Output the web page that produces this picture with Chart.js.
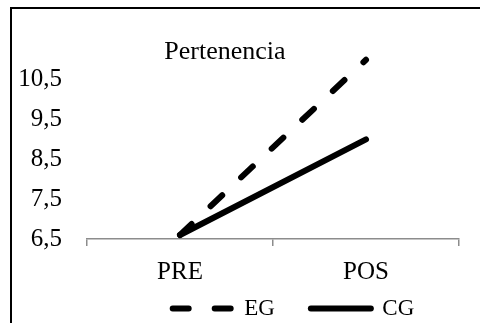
<!DOCTYPE html>
<html>
<head>
<meta charset="utf-8">
<script src="https://cdn.jsdelivr.net/npm/chart.js@4/dist/chart.umd.min.js"></script>
<style>
  html, body { margin: 0; padding: 0; background: #fff; overflow: hidden; }
  #frame {
    position: absolute; left: 10px; top: 7px; width: 600px; height: 500px;
    border-top: 2px solid #000; border-left: 2px solid #000;
  }
  #wrap { position: absolute; left: 0; top: 0; width: 480px; height: 367px; }
</style>
</head>
<body>
<div id="frame"></div>
<div id="wrap"><canvas id="chart"></canvas></div>
<script>
// data
var categories = ['PRE', 'POS'];
var egValues = [6.6, 11.0];
var cgValues = [6.6, 9.0];
var yTickValues = [6.5, 7.5, 8.5, 9.5, 10.5];
var yTickLabels = ['6,5', '7,5', '8,5', '9,5', '10,5'];

var serif = "'Liberation Serif', 'Times New Roman', serif";

// nudges title and legend to where the original sits
var nudge = {
  id: 'nudge',
  afterLayout: function (chart) {
    var t = chart.titleBlock;
    if (t) { t.left -= 14.5; t.right -= 14.5; }
    var l = chart.legend;
    if (l) { l.left += 54; l.right += 54; l.top -= 37; }
  }
};

var canvas = document.getElementById('chart');
var chart = new Chart(canvas, {
  type: 'line',
  data: {
    labels: categories,
    datasets: [{
      label: 'EG',
      data: egValues,
      borderColor: '#000',
      backgroundColor: '#000',
      borderWidth: 6,
      borderDash: [16, 26],
      borderCapStyle: 'round',
      borderJoinStyle: 'round',
      pointRadius: 0,
      clip: false
    }, {
      label: 'CG',
      data: cgValues,
      borderColor: '#000',
      backgroundColor: '#000',
      borderWidth: 6,
      borderCapStyle: 'round',
      borderJoinStyle: 'round',
      pointRadius: 0,
      clip: false
    }]
  },
  options: {
    responsive: true,
    maintainAspectRatio: false,
    animation: false,
    layout: { padding: { left: 20, right: 21, top: 0, bottom: 0 } },
    plugins: {
      tooltip: { enabled: false },
      title: {
        display: true,
        text: 'Pertenencia',
        color: '#000',
        font: { family: serif, size: 26, weight: 'normal' },
        padding: { top: 36.4, bottom: -7.85 }
      },
      legend: {
        position: 'bottom',
        labels: {
          color: '#000',
          font: { family: serif, size: 23 },
          usePointStyle: true,
          pointStyle: 'line',
          pointStyleWidth: 60,
          padding: 36,
          generateLabels: function (chart) {
            var items = Chart.defaults.plugins.legend.labels.generateLabels(chart);
            items.forEach(function (it) {
              var ds = chart.data.datasets[it.datasetIndex];
              it.lineDash = ds.borderDash || [];
              it.lineCap = 'round';
              it.lineWidth = ds.borderWidth;
              it.strokeStyle = ds.borderColor;
              it.pointStyle = 'line';
            });
            return items;
          }
        }
      }
    },
    scales: {
      x: {
        offset: true,
        grid: {
          offset: true,
          drawOnChartArea: false,
          drawTicks: true,
          tickLength: 7,
          color: '#8c8c8c',
          lineWidth: 1.5
        },
        border: { display: true, color: '#8c8c8c', width: 1.5 },
        ticks: {
          color: '#000',
          padding: 11,
          font: { family: serif, size: 25 }
        }
      },
      y: {
        min: 6.5,
        max: 11,
        grid: { display: false, drawTicks: false },
        border: { display: false },
        afterBuildTicks: function (scale) {
          scale.ticks = yTickValues.map(function (v) { return { value: v }; });
        },
        afterFit: function (scale) {
          scale.width = 67;
        },
        ticks: {
          color: '#000',
          padding: 25,
          font: { family: serif, size: 25 },
          callback: function (value) {
            var i = yTickValues.indexOf(value);
            return i >= 0 ? yTickLabels[i] : '';
          }
        }
      }
    }
  },
  plugins: [nudge]
});
</script>
</body>
</html>
